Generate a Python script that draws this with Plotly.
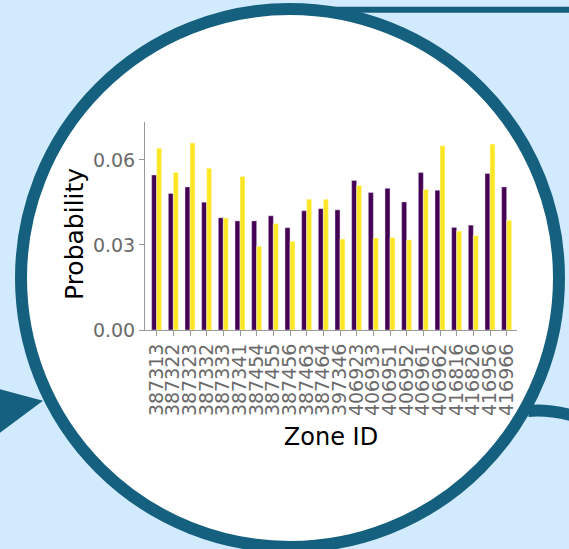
import plotly.graph_objects as go

zone_ids = ["387313", "387322", "387323", "387332", "387333", "387341", "387454",
            "387455", "387456", "387463", "387464", "397346", "406923", "406933",
            "406951", "406952", "406961", "406962", "416816", "416826", "416956",
            "416966"]
series_purple = [0.0547, 0.0482, 0.0505, 0.0451, 0.0396, 0.0385, 0.0385,
                 0.0403, 0.0361, 0.0421, 0.0428, 0.0424, 0.0528, 0.0485,
                 0.0500, 0.0452, 0.0556, 0.0493, 0.0362, 0.0370, 0.0552,
                 0.0505]
series_yellow = [0.0641, 0.0556, 0.0660, 0.0571, 0.0395, 0.0542, 0.0295,
                 0.0375, 0.0313, 0.0461, 0.0461, 0.0321, 0.0510, 0.0325,
                 0.0326, 0.0318, 0.0496, 0.0650, 0.0349, 0.0333, 0.0656,
                 0.0387]
y_ticks = [0.0, 0.03, 0.06]
y_ticklabels = ["0.00", "0.03", "0.06"]

W, H = 569, 549
L, R, T, B = 145, 52, 122, 219
PW = W - L - R
PH = H - T - B
BLUE = "#16607f"
BG = "#d1eafd"


def px(x):
    return (x - L) / PW


def py(y):
    return (H - B - y) / PH


fig = go.Figure()
fig.add_trace(go.Bar(x=zone_ids, y=series_purple, name="Series 1",
                     marker=dict(color="#440154", line=dict(width=0.6, color="rgba(230,220,240,0.8)"))))
fig.add_trace(go.Bar(x=zone_ids, y=series_yellow, name="Series 2",
                     marker=dict(color="#FDE725", line=dict(width=0.6, color="rgba(255,250,220,0.8)"))))

shapes = []
# top horizontal line
shapes.append(dict(type="line", xref="paper", yref="paper", layer="below",
                   x0=px(290), x1=px(575), y0=py(9.7), y1=py(9.7),
                   line=dict(color=BLUE, width=6)))
# left arrowhead
shapes.append(dict(type="path", xref="paper", yref="paper", layer="below",
                   path=f"M {px(-2)},{py(388.8)} L {px(43)},{py(400.7)} L {px(-2)},{py(434.2)} Z",
                   fillcolor=BLUE, line=dict(width=0)))
# bottom-right curve
shapes.append(dict(type="path", xref="paper", yref="paper", layer="below",
                   path=f"M {px(528)},{py(411)} Q {px(548)},{py(409)} {px(575)},{py(416)}",
                   line=dict(color=BLUE, width=12)))
# main circle
shapes.append(dict(type="circle", xref="paper", yref="paper", layer="below",
                   x0=px(21), x1=px(559), y0=py(547), y1=py(9),
                   fillcolor="white", line=dict(color=BLUE, width=12)))

fig.update_layout(
    width=W, height=H,
    margin=dict(l=L, r=R, t=T, b=B, pad=0),
    paper_bgcolor=BG,
    plot_bgcolor="rgba(0,0,0,0)",
    barmode="group",
    bargap=0.4,
    bargroupgap=0,
    showlegend=False,
    shapes=shapes,
    font=dict(family="DejaVu Sans", size=19, color="#6b6b6b"),
    annotations=[dict(text="Probability", xref="paper", yref="paper",
                      x=px(74), y=py(234), xanchor="center", yanchor="middle",
                      textangle=-90, showarrow=False,
                      font=dict(size=25, color="#000000"))],
    xaxis=dict(
        range=[-0.7, 21.62],
        tickmode="linear", tick0=0, dtick=1,
        tickangle=-90,
        showline=True, linecolor="#999999", linewidth=1,
        ticks="outside", ticklen=5, tickcolor="#999999",
        showgrid=False, zeroline=False,
        tickfont=dict(size=19, color="#6b6b6b"),
        title=dict(text="Zone ID", font=dict(size=24, color="#000000"), standoff=13),
    ),
    yaxis=dict(
        range=[0, 0.0734],
        tickvals=y_ticks, ticktext=y_ticklabels,
        showline=True, linecolor="#999999", linewidth=1,
        ticks="outside", ticklen=5, tickcolor="#999999",
        showgrid=False, zeroline=False,
        tickfont=dict(size=19, color="#6b6b6b"),
    ),
)

fig.write_html("out.html", config=dict(displayModeBar=False),
               post_script="document.body.style.margin='0';document.body.style.padding='0';")
